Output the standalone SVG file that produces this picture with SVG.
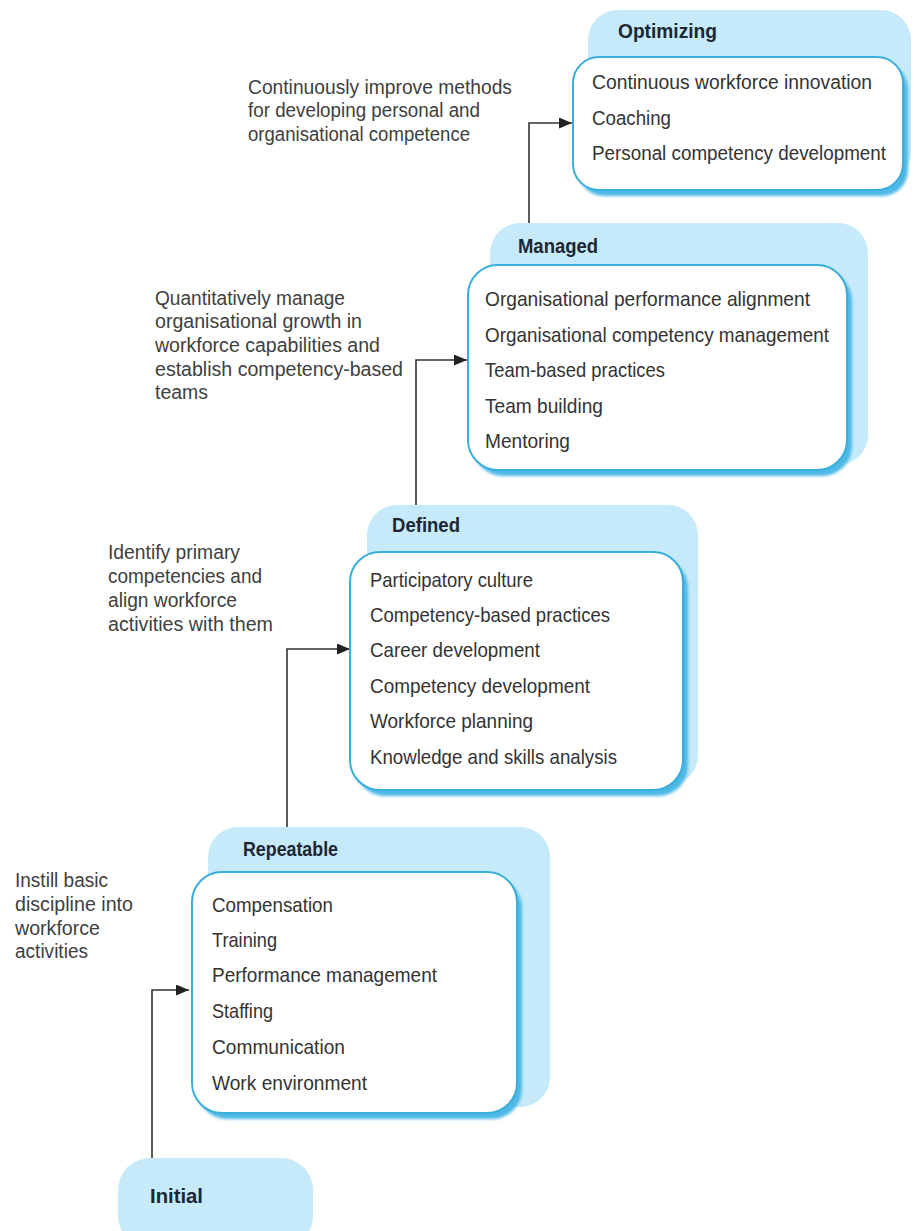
<svg xmlns="http://www.w3.org/2000/svg" width="914" height="1231" viewBox="0 0 914 1231">
  <style>
    .back { fill: #c6eaf9; }
    .shadow { fill: #4db8e6; filter: url(#soft); }
    .box { fill: #ffffff; stroke: #3aaedb; stroke-width: 2; }
    .title { font-family: "Liberation Sans", Arial, sans-serif; font-size: 20px; font-weight: bold; fill: #1c2733; }
    .item { font-family: "Liberation Sans", Arial, sans-serif; font-size: 21px; fill: #333333; }
    .item.sm { font-size: 20px; }
    .note { font-family: "Liberation Sans", Arial, sans-serif; font-size: 20px; fill: #404040; }
    .conn { fill: none; stroke: #333333; stroke-width: 1.6; }
  </style>
  <defs>
    <filter id="soft" x="-10%" y="-10%" width="120%" height="120%">
      <feGaussianBlur stdDeviation="1.5"/>
    </filter>
    <marker id="arrow" viewBox="0 0 13 11" refX="13" refY="5.5" markerWidth="13" markerHeight="11" markerUnits="userSpaceOnUse" orient="auto">
      <path d="M0,0 L13,5.5 L0,11 Z" fill="#222222"/>
    </marker>
  </defs>
  <rect width="914" height="1231" fill="#ffffff"/>

  <!-- level connectors -->
  <g id="connectors">
    <path class="conn" d="M152,1158 V990 H189" marker-end="url(#arrow)"/>
    <path class="conn" d="M287,828 V649 H350" marker-end="url(#arrow)"/>
    <path class="conn" d="M416,506 V360 H467" marker-end="url(#arrow)"/>
    <path class="conn" d="M529,224 V123 H572" marker-end="url(#arrow)"/>
  </g>

  <!-- Initial level -->
  <g id="initial">
    <rect class="back" x="118" y="1158" width="195" height="90" rx="32"/>
    <text class="title" x="150" y="1203" textLength="53" lengthAdjust="spacingAndGlyphs">Initial</text>
  </g>

  <!-- Repeatable level -->
  <g id="repeatable">
    <rect class="back" x="208" y="827" width="342" height="280" rx="30"/>
    <text class="title" x="243" y="856" textLength="95" lengthAdjust="spacingAndGlyphs">Repeatable</text>
    <rect class="shadow" x="197" y="878" width="325" height="241" rx="30"/>
    <rect class="box" x="192" y="872" width="325" height="241" rx="30"/>
    <text class="item" x="212" y="912" textLength="121" lengthAdjust="spacingAndGlyphs">Compensation</text>
    <text class="item" x="212" y="947" textLength="65" lengthAdjust="spacingAndGlyphs">Training</text>
    <text class="item" x="212" y="982" textLength="225" lengthAdjust="spacingAndGlyphs">Performance management</text>
    <text class="item" x="212" y="1018" textLength="61" lengthAdjust="spacingAndGlyphs">Staffing</text>
    <text class="item" x="212" y="1054" textLength="133" lengthAdjust="spacingAndGlyphs">Communication</text>
    <text class="item" x="212" y="1090" textLength="155" lengthAdjust="spacingAndGlyphs">Work environment</text>
  </g>

  <!-- Defined level -->
  <g id="defined">
    <rect class="back" x="367" y="505" width="331" height="280" rx="30"/>
    <text class="title" x="392" y="532" textLength="68" lengthAdjust="spacingAndGlyphs">Defined</text>
    <rect class="shadow" x="355" y="558" width="333" height="238" rx="30"/>
    <rect class="box" x="350" y="552" width="333" height="238" rx="30"/>
    <text class="item" x="370" y="587" textLength="163" lengthAdjust="spacingAndGlyphs">Participatory culture</text>
    <text class="item" x="370" y="622" textLength="240" lengthAdjust="spacingAndGlyphs">Competency-based practices</text>
    <text class="item" x="370" y="657" textLength="170" lengthAdjust="spacingAndGlyphs">Career development</text>
    <text class="item" x="370" y="693" textLength="220" lengthAdjust="spacingAndGlyphs">Competency development</text>
    <text class="item" x="370" y="728" textLength="163" lengthAdjust="spacingAndGlyphs">Workforce planning</text>
    <text class="item" x="370" y="764" textLength="247" lengthAdjust="spacingAndGlyphs">Knowledge and skills analysis</text>
  </g>

  <!-- Managed level -->
  <g id="managed">
    <rect class="back" x="490" y="223" width="378" height="242" rx="30"/>
    <text class="title" x="518" y="253" textLength="80" lengthAdjust="spacingAndGlyphs">Managed</text>
    <rect class="shadow" x="473" y="271" width="379" height="205" rx="30"/>
    <rect class="box" x="468" y="265" width="379" height="205" rx="30"/>
    <text class="item" x="485" y="306" textLength="325" lengthAdjust="spacingAndGlyphs">Organisational performance alignment</text>
    <text class="item" x="485" y="342" textLength="344" lengthAdjust="spacingAndGlyphs">Organisational competency management</text>
    <text class="item" x="485" y="377" textLength="180" lengthAdjust="spacingAndGlyphs">Team-based practices</text>
    <text class="item" x="485" y="413" textLength="118" lengthAdjust="spacingAndGlyphs">Team building</text>
    <text class="item" x="485" y="448" textLength="85" lengthAdjust="spacingAndGlyphs">Mentoring</text>
  </g>

  <!-- Optimizing level -->
  <g id="optimizing">
    <rect class="back" x="588" y="10" width="323" height="172" rx="30"/>
    <text class="title" x="618" y="38" textLength="99" lengthAdjust="spacingAndGlyphs">Optimizing</text>
    <rect class="shadow" x="578" y="63" width="330" height="133" rx="26"/>
    <rect class="box" x="573" y="57" width="330" height="133" rx="26"/>
    <text class="item sm" x="592" y="89" textLength="280" lengthAdjust="spacingAndGlyphs">Continuous workforce innovation</text>
    <text class="item sm" x="592" y="125" textLength="79" lengthAdjust="spacingAndGlyphs">Coaching</text>
    <text class="item sm" x="592" y="160" textLength="294" lengthAdjust="spacingAndGlyphs">Personal competency development</text>
  </g>

  <!-- goal notes beside each step -->
  <g id="note-optimizing">
    <text class="note" x="248" y="94" textLength="264" lengthAdjust="spacingAndGlyphs">Continuously improve methods</text>
    <text class="note" x="248" y="117" textLength="232" lengthAdjust="spacingAndGlyphs">for developing personal and</text>
    <text class="note" x="248" y="141" textLength="222" lengthAdjust="spacingAndGlyphs">organisational competence</text>
  </g>
  <g id="note-managed">
    <text class="note" x="155" y="305" textLength="190" lengthAdjust="spacingAndGlyphs">Quantitatively manage</text>
    <text class="note" x="155" y="328" textLength="207" lengthAdjust="spacingAndGlyphs">organisational growth in</text>
    <text class="note" x="155" y="352" textLength="225" lengthAdjust="spacingAndGlyphs">workforce capabilities and</text>
    <text class="note" x="155" y="376" textLength="248" lengthAdjust="spacingAndGlyphs">establish competency-based</text>
    <text class="note" x="155" y="399" textLength="53" lengthAdjust="spacingAndGlyphs">teams</text>
  </g>
  <g id="note-defined">
    <text class="note" x="108" y="559" textLength="132" lengthAdjust="spacingAndGlyphs">Identify primary</text>
    <text class="note" x="108" y="583" textLength="154" lengthAdjust="spacingAndGlyphs">competencies and</text>
    <text class="note" x="108" y="607" textLength="129" lengthAdjust="spacingAndGlyphs">align workforce</text>
    <text class="note" x="108" y="631" textLength="165" lengthAdjust="spacingAndGlyphs">activities with them</text>
  </g>
  <g id="note-repeatable">
    <text class="note" x="15" y="887" textLength="93" lengthAdjust="spacingAndGlyphs">Instill basic</text>
    <text class="note" x="15" y="911" textLength="118" lengthAdjust="spacingAndGlyphs">discipline into</text>
    <text class="note" x="15" y="935" textLength="85" lengthAdjust="spacingAndGlyphs">workforce</text>
    <text class="note" x="15" y="958" textLength="73" lengthAdjust="spacingAndGlyphs">activities</text>
  </g>
</svg>
